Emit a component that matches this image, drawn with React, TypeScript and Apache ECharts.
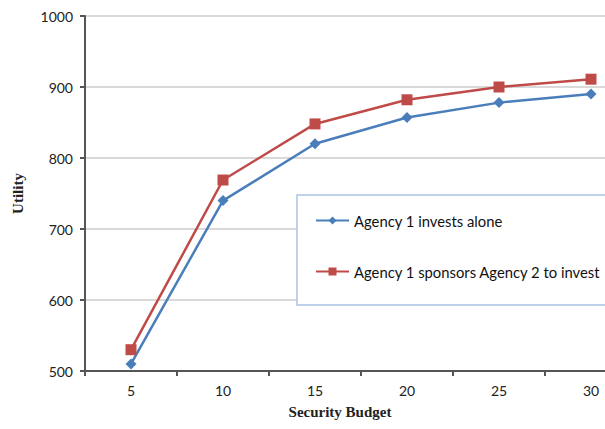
import React, { useEffect, useRef } from "react";
import * as echarts from "echarts";

const budgets = ["5", "10", "15", "20", "25", "30"];
const investsAlone = [510, 740, 820, 857, 878, 890];
const sponsors = [530, 769, 848, 882, 900, 911];
const seriesNames = ["Agency 1 invests alone", "Agency 1 sponsors Agency 2 to invest"];

export default function App() {
  const ref = useRef<HTMLDivElement>(null);
  useEffect(() => {
    const chart = echarts.init(ref.current!, null, { renderer: "svg" });
    const tickFont = { fontFamily: "Lato, 'Open Sans', sans-serif", fontSize: 14, color: "#222" };
    chart.setOption({
      animation: false,
      backgroundColor: "#fff",
      grid: { left: 85, top: 16, right: 3, bottom: 58, containLabel: false },
      xAxis: {
        type: "category",
        data: budgets,
        boundaryGap: true,
        axisLine: { lineStyle: { color: "#555", width: 2 } },
        axisTick: { show: true, alignWithLabel: false, length: 5, lineStyle: { color: "#555", width: 2 } },
        axisLabel: { ...tickFont, margin: 12 },
      },
      yAxis: {
        type: "value",
        min: 500,
        max: 1000,
        interval: 100,
        name: "Utility",
        nameLocation: "middle",
        nameGap: 60,
        nameTextStyle: { fontFamily: "'Liberation Serif', serif", fontWeight: "bold", fontSize: 15, color: "#222" },
        axisLine: { show: true, lineStyle: { color: "#555", width: 2 } },
        axisTick: { show: true, length: 5, lineStyle: { color: "#555", width: 2 } },
        axisLabel: { ...tickFont, margin: 12, formatter: (v: number) => String(v) },
        splitLine: { lineStyle: { color: "#ccc", width: 1.5 } },
      },
      legend: {
        orient: "vertical",
        left: 315,
        top: 213,
        padding: 0,
        itemGap: 36,
        itemWidth: 33,
        itemHeight: 10,
        z: 10,
        textStyle: { fontFamily: "Lato, 'Open Sans', sans-serif", fontSize: 14.8, color: "#111" },
        data: seriesNames,
      },
      graphic: [
        {
          type: "rect",
          z: 5,
          shape: { x: 297, y: 195, width: 360, height: 110 },
          style: { fill: "#fff", stroke: "#a9c2e4", lineWidth: 1.5 },
        },
        {
          type: "text",
          z: 5,
          x: 340,
          y: 412,
          style: {
            text: "Security Budget",
            fill: "#222",
            font: "bold 15px 'Liberation Serif', serif",
            textAlign: "center",
            textVerticalAlign: "middle",
          },
        },
      ],
      series: [
        {
          name: seriesNames[0],
          type: "line",
          data: investsAlone,
          symbol: "diamond",
          symbolSize: 11,
          lineStyle: { color: "#4a7ebb", width: 2.5 },
          itemStyle: { color: "#4a7ebb" },
        },
        {
          name: seriesNames[1],
          type: "line",
          data: sponsors,
          symbol: "rect",
          symbolSize: 11,
          lineStyle: { color: "#be4b48", width: 2.5 },
          itemStyle: { color: "#be4b48" },
        },
      ],
    });
    return () => chart.dispose();
  }, []);
  return (
    <div style={{ width: 605, height: 429, position: "absolute", left: 0, top: 0, overflow: "hidden" }}>
      <div ref={ref} style={{ width: 640, height: 429 }} />
    </div>
  );
}
